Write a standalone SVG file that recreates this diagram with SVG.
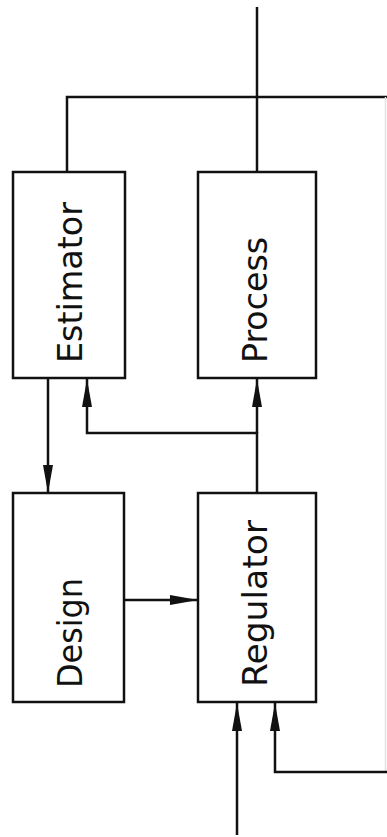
<svg xmlns="http://www.w3.org/2000/svg" width="387" height="837" viewBox="0 0 387 837">
<style>
.box{fill:none;stroke:#111;stroke-width:2.5}
.ln{fill:none;stroke:#111;stroke-width:2.5}
.lbl{font-family:"DejaVu Sans",sans-serif;font-size:34px;fill:#111}
</style>
<defs>
<marker id="ah" markerUnits="userSpaceOnUse" markerWidth="28" markerHeight="10" refX="28" refY="5" orient="auto">
<path d="M0,0 L28,5 L0,10 Z" fill="#111"/>
</marker>
</defs>
<rect width="387" height="837" fill="#fff"/>
<g id="connectors">
<path class="ln" d="M257,7 V172"/>
<path class="ln" d="M67,172 V97 H387"/>
<path d="M385.5,97 V772" fill="none" stroke="#e2e2e2" stroke-width="1.5"/>
<path class="ln" d="M48,378 V493" marker-end="url(#ah)"/>
<path class="ln" d="M257,493 V433 H87 V379" marker-end="url(#ah)"/>
<path class="ln" d="M257,433 V379" marker-end="url(#ah)"/>
<path class="ln" d="M124,600 H198" marker-end="url(#ah)"/>
<path class="ln" d="M237,835 V703" marker-end="url(#ah)"/>
<path class="ln" d="M387,772 H275 V703" marker-end="url(#ah)"/>
</g>
<g id="estimator">
<rect class="box" x="13" y="172" width="112" height="206"/>
<text class="lbl" transform="translate(82,363) rotate(-90)" textLength="161" lengthAdjust="spacingAndGlyphs">Estimator</text>
</g>
<g id="process">
<rect class="box" x="198" y="172" width="118" height="206"/>
<text class="lbl" transform="translate(267,363) rotate(-90)" textLength="126" lengthAdjust="spacingAndGlyphs">Process</text>
</g>
<g id="design">
<rect class="box" x="13" y="493" width="111" height="209"/>
<text class="lbl" transform="translate(82,688) rotate(-90)" textLength="110" lengthAdjust="spacingAndGlyphs">Design</text>
</g>
<g id="regulator">
<rect class="box" x="198" y="493" width="118" height="209"/>
<text class="lbl" transform="translate(267,687) rotate(-90)" textLength="167" lengthAdjust="spacingAndGlyphs">Regulator</text>
</g>
</svg>
